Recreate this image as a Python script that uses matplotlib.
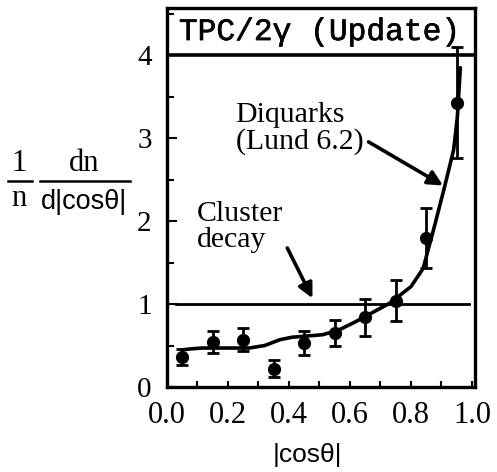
import matplotlib.pyplot as plt
import matplotlib.patheffects as pe
from matplotlib.lines import Line2D
from matplotlib.ticker import MultipleLocator

# measured |cos theta| distribution
cos_bins = [0.05, 0.15, 0.25, 0.35, 0.45, 0.55, 0.65, 0.75, 0.85, 0.95]
dn_vals = [0.36, 0.54, 0.57, 0.22, 0.53, 0.65, 0.84, 1.04, 1.80, 3.43]
dn_errs = [0.10, 0.13, 0.14, 0.10, 0.14, 0.16, 0.22, 0.25, 0.36, 0.67]

# Lund 6.2 diquark prediction
lund_x = [0.055, 0.08, 0.115, 0.2, 0.27, 0.32, 0.37, 0.41, 0.51, 0.565, 0.62,
          0.69, 0.73, 0.80, 0.84, 0.88, 0.91, 0.94, 0.952, 0.962]
lund_y = [0.45, 0.46, 0.47, 0.47, 0.47, 0.50, 0.57, 0.60, 0.63, 0.69, 0.79,
          0.93, 1.01, 1.21, 1.43, 1.98, 2.41, 2.86, 3.25, 3.85]

# isotropic cluster decay
cluster_x = [0.03, 0.99]
cluster_y = [1.0, 1.0]

W, H = 497, 472
fig = plt.figure(figsize=(W / 100, H / 100), dpi=100)
ax = fig.add_axes([167 / W, 1 - 387 / H, 308 / W, 379 / H])

serif = 'Liberation Serif'
sans = 'Liberation Sans'

ax.plot(lund_x, lund_y, color='black', lw=2.6, solid_capstyle='round',
        solid_joinstyle='round', zorder=3)
ax.plot(cluster_x, cluster_y, color='black', lw=2.0, zorder=2)
ax.errorbar(cos_bins, dn_vals, yerr=dn_errs, fmt='o', color='black', ms=8.5,
            elinewidth=2, capsize=4, capthick=2, zorder=4)

ax.axhline(4.0, color='black', lw=2.6)
ax.text(0.5, 4.28, 'TPC/2\u03b3 (Update)', family='Liberation Mono',
        fontsize=22.5, ha='center', va='center',
        path_effects=[pe.withStroke(linewidth=0.45, foreground='black')])

ax.set_xlim(0, 1.01)
ax.set_ylim(0, 4.57)
for s in ax.spines.values():
    s.set_linewidth(2.4)

ax.xaxis.set_major_locator(MultipleLocator(0.2))
ax.xaxis.set_minor_locator(MultipleLocator(0.1))
ax.yaxis.set_major_locator(MultipleLocator(1))
ax.yaxis.set_minor_locator(MultipleLocator(0.5))
ax.tick_params(which='both', direction='in', top=False, right=False, width=1.5)
ax.tick_params(axis='y', which='major', length=7, pad=11)
ax.tick_params(axis='y', which='minor', length=5)
ax.tick_params(axis='x', which='major', length=4, pad=10)
ax.tick_params(axis='x', which='minor', length=4)
ax.set_xticks([0, 0.2, 0.4, 0.6, 0.8, 1.0])
ax.set_xticklabels(['0.0', '0.2', '0.4', '0.6', '0.8', '1.0'])
for lab in ax.get_xticklabels():
    lab.set_family(serif)
    lab.set_fontsize(22)
for lab in ax.get_yticklabels():
    lab.set_family(serif)
    lab.set_fontsize(21)

ax.annotate('Diquarks\n(Lund 6.2)', xy=(0.905, 2.43), xytext=(0.225, 3.12),
            family=serif, fontsize=21.5, ha='left', va='center', linespacing=1.0,
            arrowprops=dict(arrowstyle='-|>', lw=2.6, color='black',
                            mutation_scale=22, shrinkA=2, shrinkB=0,
                            relpos=(1.0, 0.3)))
ax.annotate('Cluster\ndecay', xy=(0.477, 1.07), xytext=(0.098, 1.93),
            family=serif, fontsize=21.5, ha='left', va='center', linespacing=1.0,
            arrowprops=dict(arrowstyle='-|>', lw=2.6, color='black',
                            mutation_scale=22, shrinkA=2, shrinkB=0,
                            relpos=(1.0, 0.25)))

fig.text(307 / W, 1 - 455 / H, '|cos\u03b8|', family=sans, fontsize=19,
         ha='center', va='center')

# y label built as two stacked fractions
fig.text(19 / W, 1 - 163 / H, '1', family=serif, fontsize=22, ha='center', va='center')
fig.text(19 / W, 1 - 199 / H, 'n', family=serif, fontsize=22, ha='center', va='center')
fig.text(84 / W, 1 - 163 / H, 'dn', family=serif, fontsize=22, ha='center', va='center')
fig.text(84 / W, 1 - 202 / H, 'd|cos\u03b8|', family=sans, fontsize=19.5,
         ha='center', va='center')
for x0, x1 in [(8, 32), (40, 130)]:
    fig.add_artist(Line2D([x0 / W, x1 / W], [1 - 181 / H, 1 - 181 / H],
                          transform=fig.transFigure, color='black', lw=1.8))

fig.savefig('out.png', dpi=100)
